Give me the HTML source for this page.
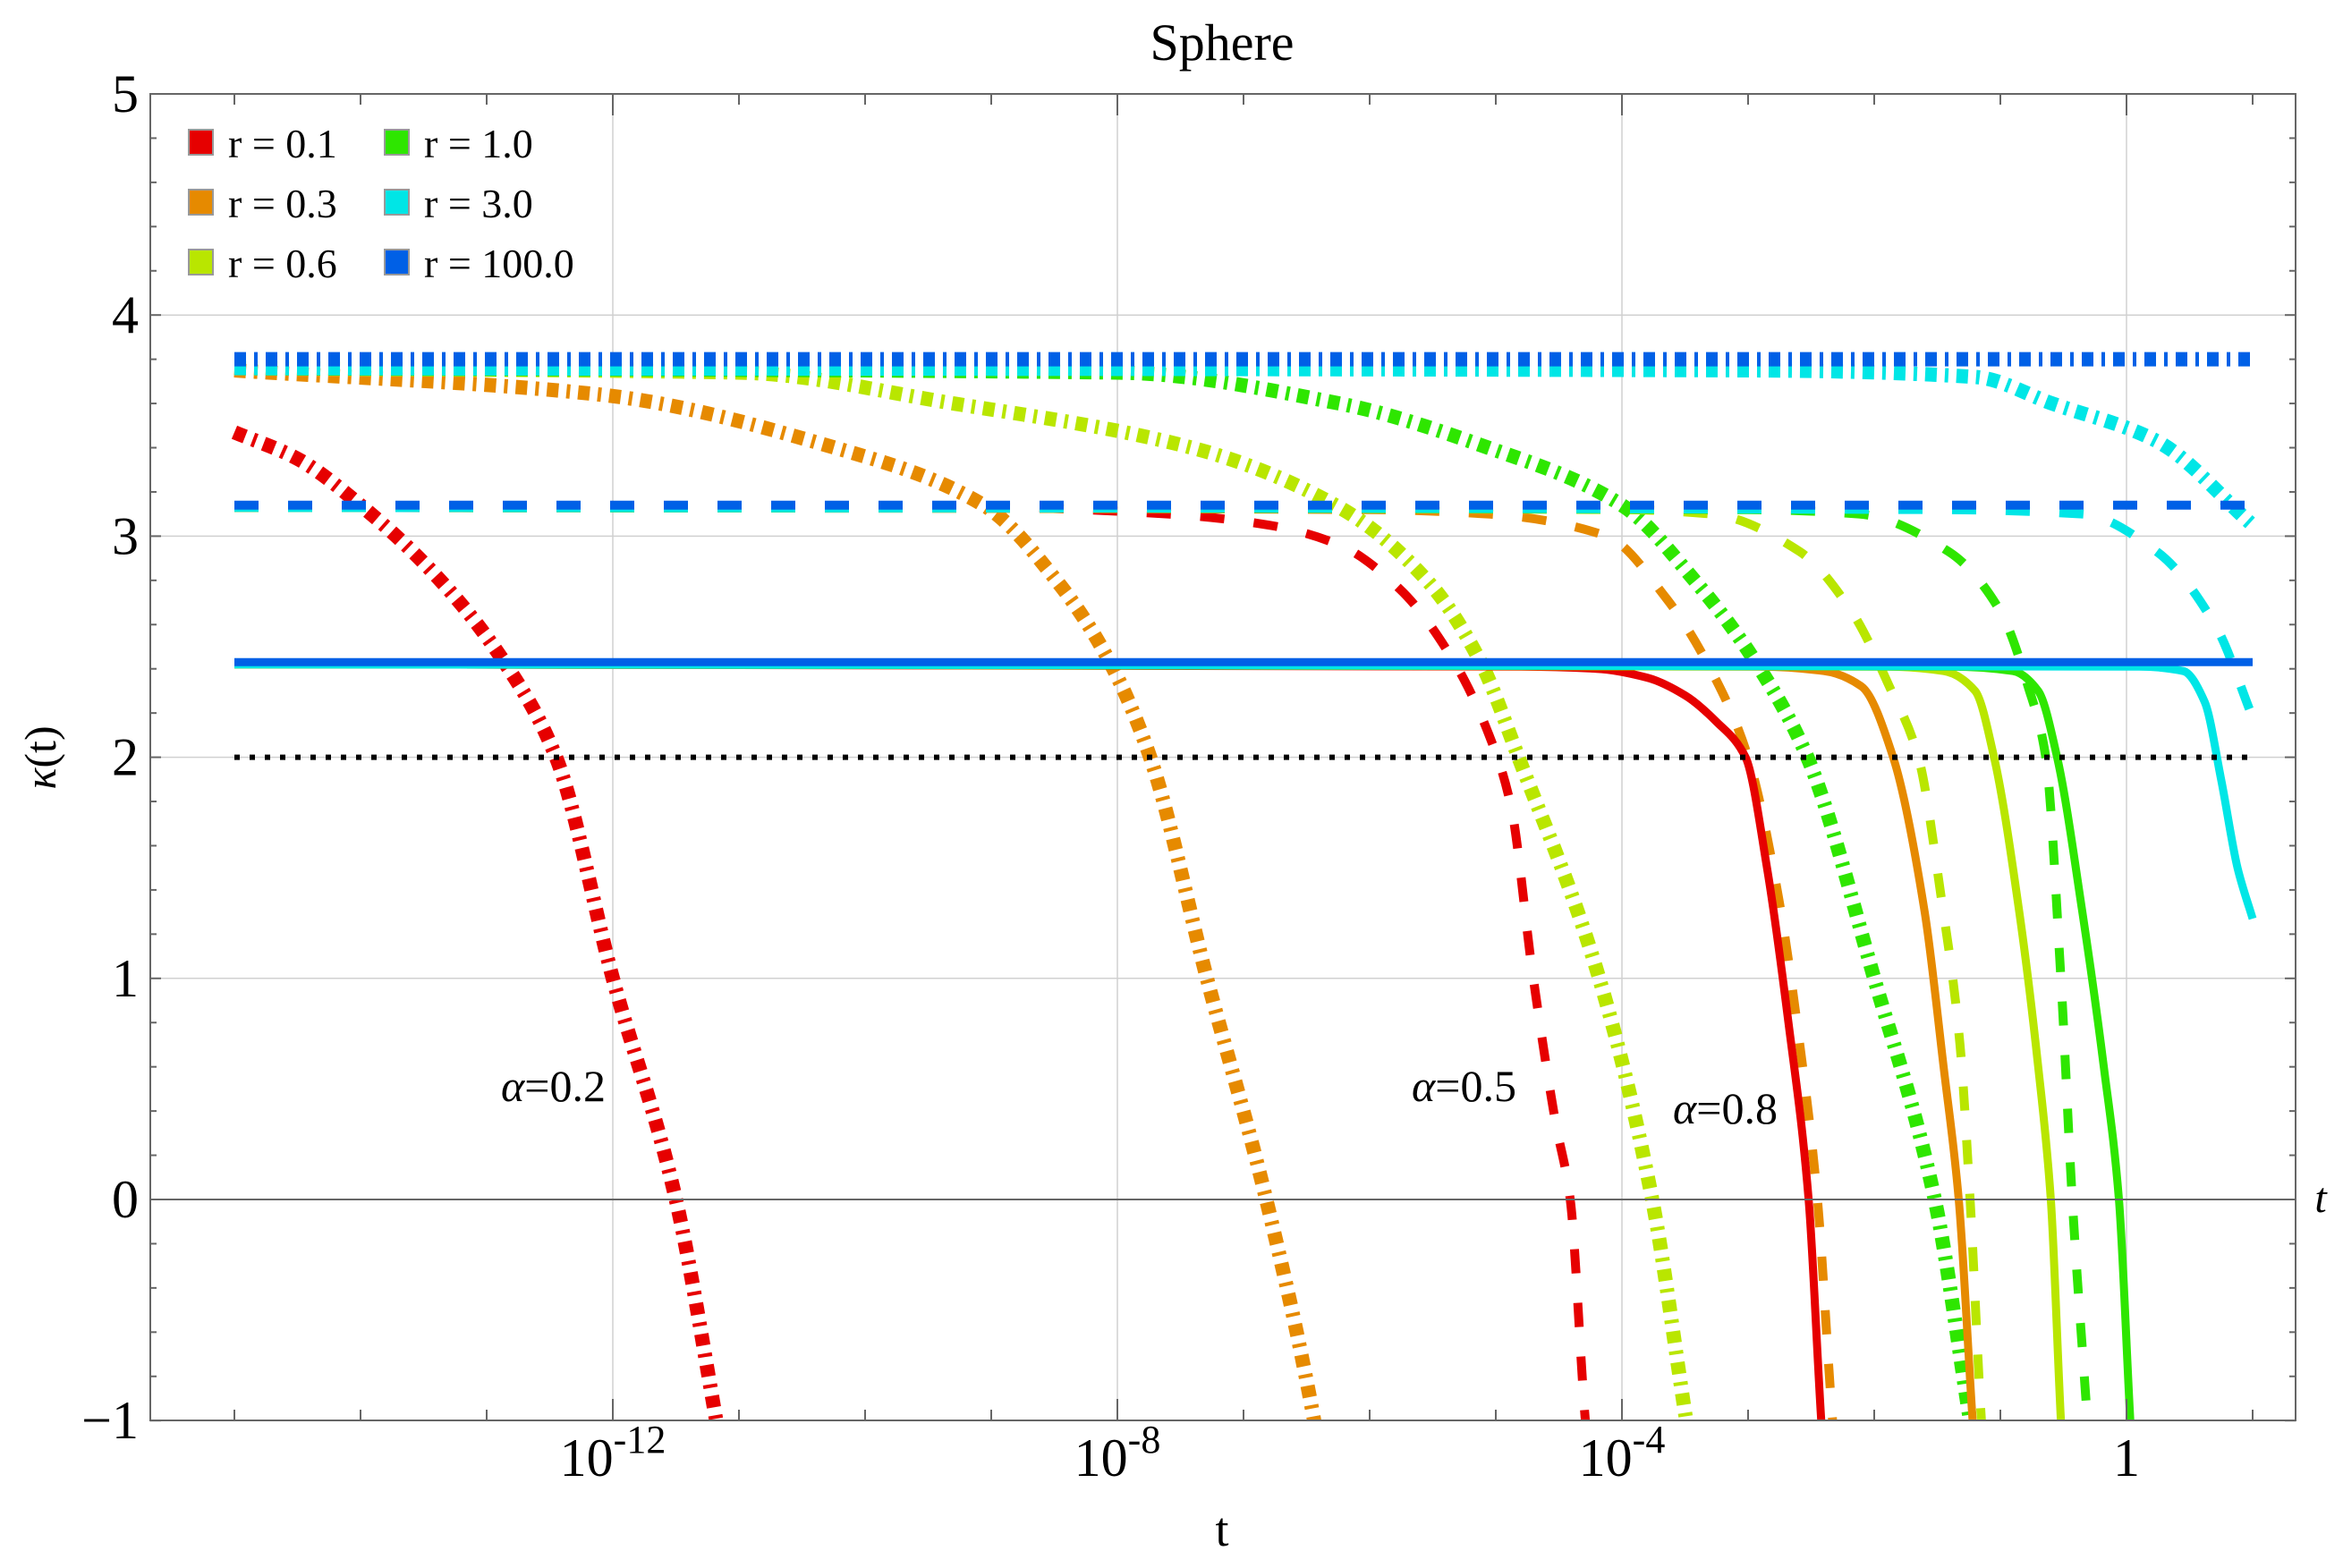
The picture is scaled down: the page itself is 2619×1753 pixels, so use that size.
<!DOCTYPE html>
<html><head><meta charset="utf-8"><style>
html,body{margin:0;padding:0;background:#fff}
svg{display:block;font-family:"Liberation Serif",serif}
</style></head><body>
<svg id="chart" width="2619" height="1753" viewBox="0 0 2619 1753">
<defs><clipPath id="plotclip"><rect x="168" y="105" width="2398" height="1483"/></clipPath></defs>
<text x="1366" y="67" font-size="58" text-anchor="middle">Sphere</text>
<g id="grid"></g>
<g id="series" clip-path="url(#plotclip)"></g>
<g id="axes"></g>
<text x="1366" y="1728" font-size="54" text-anchor="middle">t</text>
<text x="2594" y="1355" font-size="48" font-style="italic" text-anchor="middle">t</text>
<text transform="translate(62,847) rotate(-90)" font-size="50" text-anchor="middle"><tspan font-style="italic">κ</tspan>(t)</text>
<text x="560" y="1231" font-size="50"><tspan font-style="italic">α</tspan>=0.2</text>
<text x="1578" y="1231" font-size="50"><tspan font-style="italic">α</tspan>=0.5</text>
<text x="1870" y="1256" font-size="50"><tspan font-style="italic">α</tspan>=0.8</text>
<g id="legend"></g>
</svg>
<script>
// ---- data ----
const rLabels = ["r = 0.1","r = 0.3","r = 0.6","r = 1.0","r = 3.0","r = 100.0"];
const rColors = ["#e60000","#e68a00","#b9e600","#2ee600","#00e6e6","#0060e6"];
const xTickDecades = [-12,-8,-4,0];
const xTickLabels = ["10","10","10","1"];
const xTickExps = ["-12","-8","-4",""];
const yTicks = [-1,0,1,2,3,4,5];
const yTickLabels = ["\u22121","0","1","2","3","4","5"];
// alpha = 0.2 (dot-dash)
const a02_r01_logt = [-15,-14.5,-14.0,-13.4,-12.86,-12.45,-12.0,-11.5,-11.18,-11.0];
const a02_r01_k    = [3.47,3.35,3.14,2.82,2.43,2.0,1.0,0.0,-1.0,-1.6];
const a02_r03_logt = [-15,-12.1,-10.24,-9.06,-8.47,-8.06,-7.74,-7.29,-6.82,-6.44,-6.3];
const a02_r03_k    = [3.75,3.64,3.40,3.14,2.79,2.43,2.0,1.0,0.0,-1.0,-1.5];
const a02_r06_logt = [-15,-11.0,-9.3,-7.41,-6.24,-5.53,-5.12,-4.82,-4.18,-3.76,-3.49,-3.35];
const a02_r06_k    = [3.76,3.74,3.6,3.40,3.13,2.79,2.43,2.0,1.0,0.0,-1.0,-1.5];
const a02_r10_logt = [-15,-8.0,-6.24,-5.06,-4.0,-3.41,-2.94,-2.53,-2.0,-1.52,-1.24,-1.1];
const a02_r10_k    = [3.76,3.74,3.6,3.4,3.14,2.79,2.43,2.0,1.0,0.0,-1.0,-1.5];
const a02_r30_logt = [-15,-3.0,-1.2,-0.59,0.24,1.0];
const a02_r30_k    = [3.76,3.75,3.72,3.6,3.43,3.05];
const a02_r100_logt = [-15,1.0];
const a02_r100_k    = [3.80,3.80];
// alpha = 0.5 (dashed)
const a05_r01_logt = [-15,-9.0,-7.6,-6.8,-6.24,-5.76,-5.35,-5.06,-4.88,-4.71,-4.53,-4.41,-4.29,-4.2];
const a05_r01_k    = [3.13,3.13,3.10,3.05,2.96,2.76,2.45,2.11,1.78,1.03,0.36,0.0,-1.0,-1.5];
const a05_r03_logt = [-15,-6.0,-5.06,-4.12,-3.65,-3.29,-3.0,-2.76,-2.59,-2.45,-2.33,-2.25];
const a05_r03_k    = [3.13,3.12,3.10,3.0,2.72,2.39,2.0,1.37,0.7,0.0,-1.0,-1.5];
const a05_r06_logt = [-15,-4.0,-3.29,-2.59,-2.18,-1.88,-1.65,-1.47,-1.32,-1.24,-1.15,-1.08];
const a05_r06_k    = [3.13,3.12,3.10,2.93,2.66,2.32,2.0,1.37,0.7,0.0,-1.0,-1.5];
const a05_r10_logt = [-15,-3.0,-2.12,-1.41,-1.0,-0.78,-0.64,-0.52,-0.43,-0.31,-0.25];
const a05_r10_k    = [3.13,3.12,3.10,2.93,2.66,2.32,2.0,1.0,0.0,-1.0,-1.5];
const a05_r30_logt = [-15,-1.5,-0.35,0.24,0.71,1.0];
const a05_r30_k    = [3.13,3.12,3.10,2.93,2.59,2.18];
const a05_r100_logt = [-15,1.0];
const a05_r100_k    = [3.14,3.14];
// alpha = 0.8 (solid)
const a08_r01_logt = [-15,-4.8,-4.2,-3.8,-3.5,-3.25,-3.02,-2.85,-2.68,-2.52,-2.42,-2.36];
const a08_r01_k    = [2.42,2.41,2.40,2.36,2.28,2.16,2.0,1.5,0.8,0.0,-1.0,-1.5];
const a08_r03_logt = [-15,-2.9,-2.4,-2.1,-1.85,-1.6,-1.45,-1.33,-1.22,-1.16];
const a08_r03_k    = [2.42,2.41,2.39,2.32,2.0,1.3,0.6,0.0,-1.0,-1.5];
const a08_r06_logt = [-15,-1.9,-1.45,-1.2,-1.05,-0.85,-0.7,-0.6,-0.52,-0.47];
const a08_r06_k    = [2.42,2.41,2.39,2.3,2.0,1.3,0.6,0.0,-1.0,-1.5];
const a08_r10_logt = [-15,-1.4,-0.9,-0.7,-0.55,-0.35,-0.18,-0.06,0.03,0.08];
const a08_r10_k    = [2.42,2.41,2.39,2.3,2.0,1.3,0.6,0.0,-1.0,-1.5];
const a08_r30_logt = [-15,0.1,0.45,0.62,0.75,0.88,1.0];
const a08_r30_k    = [2.42,2.41,2.39,2.25,1.9,1.5,1.27];
const a08_r100_logt = [-15,1.0];
const a08_r100_k    = [2.43,2.43];
// reference level
const refLevel_logt = [-15,1.0];
const refLevel_k    = [2.0,2.0];

// ---- scales ----
const X0=168, X1=2566, Y0=105, Y1=1588;
function xs(lt){return 2377 + 141*lt;}
function ys(v){return 1341 - 247.2*v;}
const NS="http://www.w3.org/2000/svg";
function mk(tag,attrs,parent){const e=document.createElementNS(NS,tag);for(const k in attrs)e.setAttribute(k,attrs[k]);parent.appendChild(e);return e;}

const grid=document.getElementById('grid');
xTickDecades.forEach(d=>{const l=mk('line',{x1:xs(d),x2:xs(d),y1:Y0,y2:Y1,stroke:'#d0d0d0','stroke-width':1.5},grid);

});
yTicks.forEach(v=>{if(v<=-1||v>=5||v===0)return;const l=mk('line',{x1:X0,x2:X1,y1:ys(v),y2:ys(v),stroke:'#d0d0d0','stroke-width':1.5},grid);

});

// ---- series: monotone cubic (Fritsch-Carlson) in x ----
function pathFrom(lt,k){
  const x=lt.map(xs), y=k.map(ys), n=x.length;
  if(n<3){return 'M'+x[0]+','+y[0]+' L'+x[n-1]+','+y[n-1];}
  const dx=[],s=[];
  for(let i=0;i<n-1;i++){dx.push(x[i+1]-x[i]);s.push((y[i+1]-y[i])/dx[i]);}
  const m=new Array(n);
  m[0]=s[0];m[n-1]=s[n-2];
  for(let i=1;i<n-1;i++){
    if(s[i-1]*s[i]<=0)m[i]=0;
    else{const w1=2*dx[i]+dx[i-1],w2=dx[i]+2*dx[i-1];m[i]=(w1+w2)/(w1/s[i-1]+w2/s[i]);}
  }
  let d='M'+x[0]+','+y[0];
  for(let i=0;i<n-1;i++){
    const h=dx[i];
    d+=' C'+(x[i]+h/3)+','+(y[i]+m[i]*h/3)+' '+(x[i+1]-h/3)+','+(y[i+1]-m[i+1]*h/3)+' '+x[i+1]+','+y[i+1];
  }
  return d;
}
const series=document.getElementById('series');
const styles={
  a02:{w:16,dash:'13,9,4,9'},
  a05:{w:10,dash:'27,33'},
  a08:{w:9,dash:'none'}
};
const groups=[
 ['a02',[[a02_r01_logt,a02_r01_k],[a02_r03_logt,a02_r03_k],[a02_r06_logt,a02_r06_k],[a02_r10_logt,a02_r10_k],[a02_r30_logt,a02_r30_k],[a02_r100_logt,a02_r100_k]]],
 ['a05',[[a05_r01_logt,a05_r01_k],[a05_r03_logt,a05_r03_k],[a05_r06_logt,a05_r06_k],[a05_r10_logt,a05_r10_k],[a05_r30_logt,a05_r30_k],[a05_r100_logt,a05_r100_k]]],
 ['a08',[[a08_r01_logt,a08_r01_k],[a08_r03_logt,a08_r03_k],[a08_r06_logt,a08_r06_k],[a08_r10_logt,a08_r10_k],[a08_r30_logt,a08_r30_k],[a08_r100_logt,a08_r100_k]]]
];
groups.forEach(([g,list])=>{
  list.forEach((s,i)=>{
    const st=styles[g];
    const p=mk('path',{d:pathFrom(s[0],s[1]),fill:'none',stroke:rColors[i],'stroke-width':st.w,'stroke-dasharray':st.dash},series);
    
    
  });
});
const ref=mk('path',{d:pathFrom(refLevel_logt,refLevel_k),fill:'none',stroke:'#000','stroke-width':6,'stroke-dasharray':'6,11'},series);



// ---- axes ----
const axes=document.getElementById('axes');
const frame=mk('rect',{x:X0,y:Y0,width:X1-X0,height:Y1-Y0,fill:'none',stroke:'#666','stroke-width':2},axes);


const zl=mk('line',{x1:X0,x2:X1,y1:ys(0),y2:ys(0),stroke:'#666','stroke-width':2},axes);


for(let d=-15;d<=1;d++){
  const major=xTickDecades.indexOf(d)>=0;const L=major?24:12;
  mk('line',{x1:xs(d),x2:xs(d),y1:Y1,y2:Y1-L,stroke:'#666','stroke-width':2},axes);
  mk('line',{x1:xs(d),x2:xs(d),y1:Y0,y2:Y0+L,stroke:'#666','stroke-width':2},axes);
}
for(let v=-1;v<=5.001;v+=0.2){
  const major=Math.abs(v-Math.round(v))<1e-6;const L=major?12:7;
  mk('line',{x1:X0,x2:X0+L,y1:ys(v),y2:ys(v),stroke:'#666','stroke-width':2},axes);
  mk('line',{x1:X1,x2:X1-L,y1:ys(v),y2:ys(v),stroke:'#666','stroke-width':2},axes);
}
yTicks.forEach((v,i)=>{
  const t=mk('text',{x:155,y:ys(v)+20,'font-size':60,'text-anchor':'end'},axes);
  t.textContent=yTickLabels[i];
  
  
});
xTickDecades.forEach((d,i)=>{
  const t=mk('text',{x:xs(d),y:1650,'font-size':60,'text-anchor':'middle'},axes);
  t.textContent=xTickLabels[i];
  if(xTickExps[i]){const ts=mk('tspan',{dy:-26,'font-size':44},t);ts.textContent=xTickExps[i];}
  
  
});

// ---- legend ----
const legend=document.getElementById('legend');
rLabels.forEach((lab,i)=>{
  const col=Math.floor(i/3),row=i%3;
  const x=211+col*219,y=145+row*67;
  const sw=mk('rect',{x:x,y:y,width:27,height:28,fill:rColors[i],stroke:'#999','stroke-width':2},legend);
  
  
  const t=mk('text',{x:x+44,y:y+31,'font-size':46},legend);
  t.textContent=lab;
  
  
});
</script>
</body></html>
